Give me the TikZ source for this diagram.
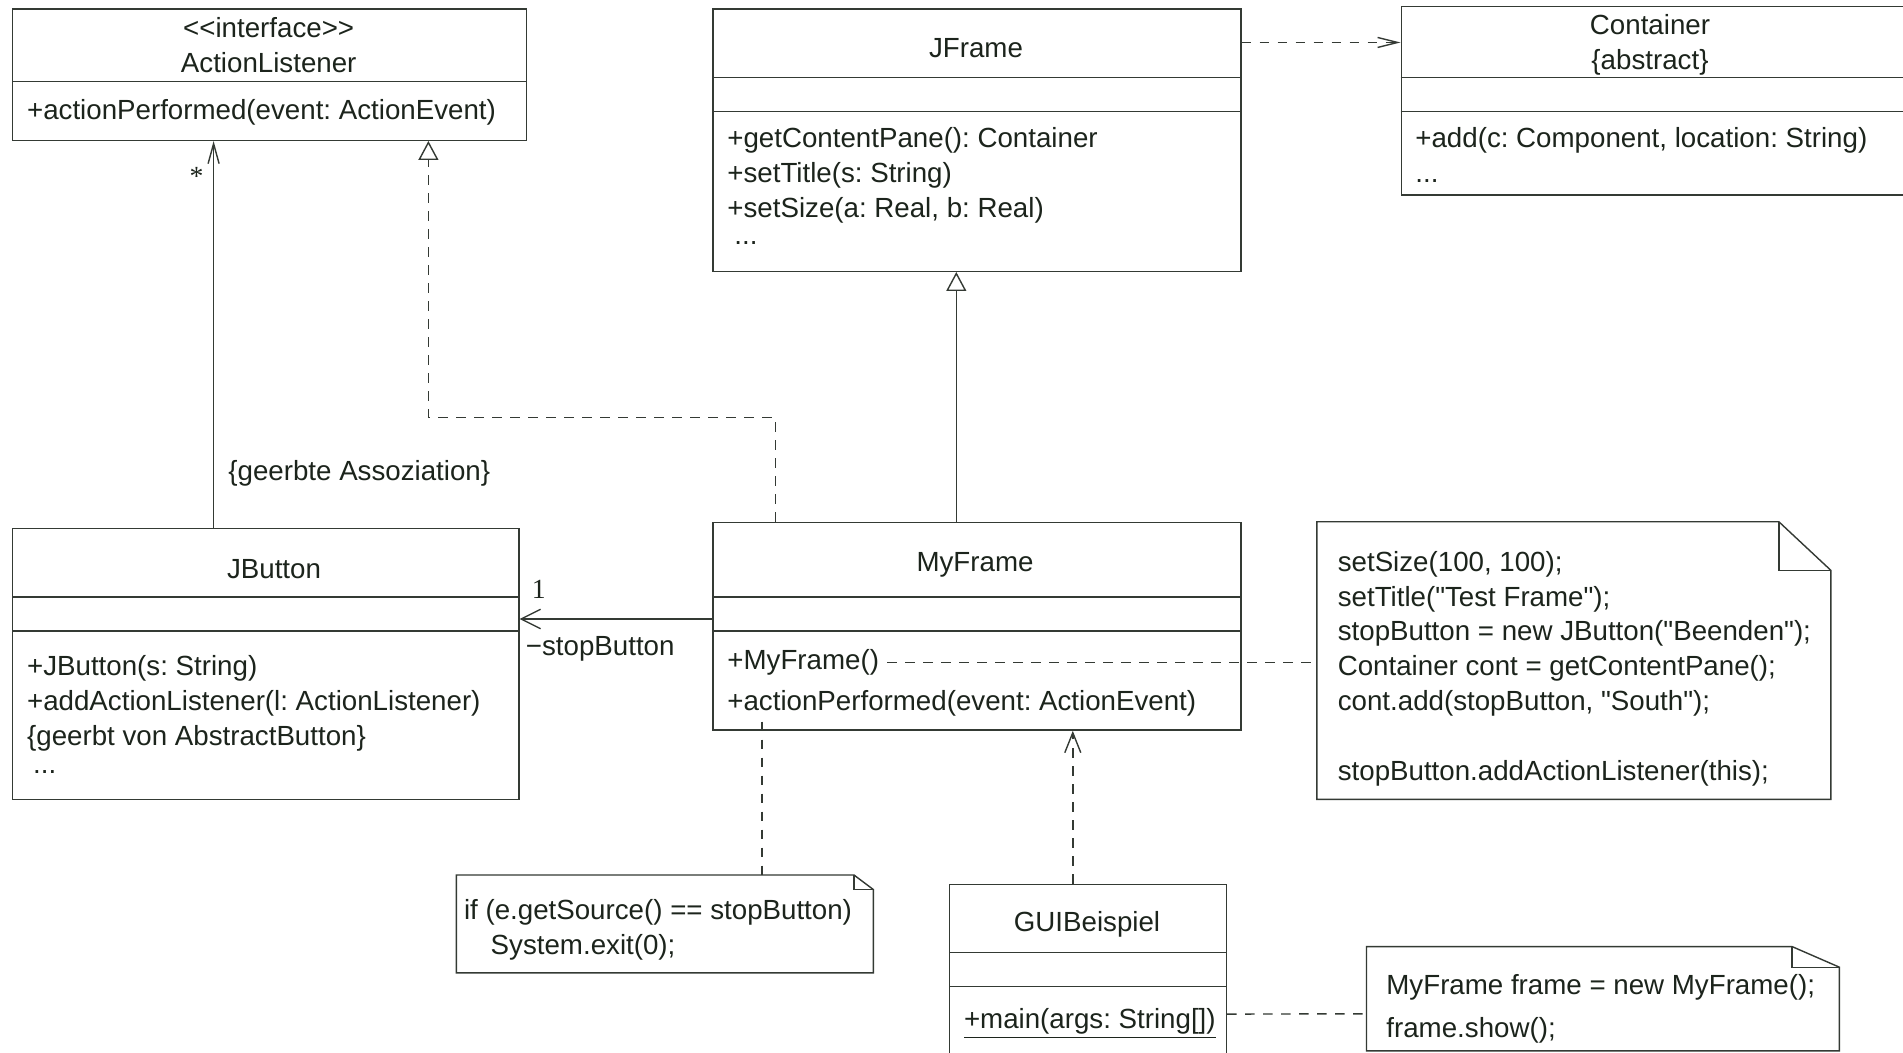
\documentclass[tikz,border=0pt]{standalone}
\usepackage{fontspec}
\setmainfont{Liberation Sans}[Ligatures=TeXOff]
\newfontfamily\multfont{Liberation Serif}
\usetikzlibrary{arrows.meta}

\definecolor{umlink}{RGB}{28,36,28}
\definecolor{umlgray}{RGB}{52,58,52}
\newcommand\umlfont{\fontsize{13.85}{17.4}\selectfont\frenchspacing}

% note outline with a folded corner: node, fold width, fold height
\newcommand\drawnote[3]{%
  \draw[umlline] (#1.north west) -- ([xshift=-#2]#1.north east)
    -- ([yshift=-#3]#1.north east) -- (#1.south east) -- (#1.south west) -- cycle;
  \draw[umlline] ([xshift=-#2]#1.north east) |- ([yshift=-#3]#1.north east);
}

\tikzset{
  umlline/.style={draw=umlgray, line width=0.7pt, line join=miter},
  classbox/.style={umlline, anchor=north west, inner sep=0pt},
  notebox/.style={anchor=north west, inner sep=0pt},
  txt/.style={anchor=north west, inner sep=0pt, align=left, text=umlink,
    execute at begin node=\strut},
  ctr/.style={anchor=north, inner sep=0pt, align=center, text=umlink,
    execute at begin node=\strut},
  mult/.style={inner sep=0pt, text=umlink, font=\multfont\umlfont},
  dashline/.style={dash pattern=on 4.8pt off 4.2pt},
  assoc/.style={umlline, -{Straight Barb[length=10pt,width=5.5pt]}},
  navig/.style={umlline, -{Straight Barb[length=9.7pt,width=9.7pt]}},
  gen/.style={umlline, -{Triangle[open,length=9.5pt,width=10pt]}},
  realize/.style={gen, dashline},
  dep/.style={umlline, dashline, -{Straight Barb[length=10pt,width=5pt]}},
  notelink/.style={umlline, dashline},
}

\begin{document}
\begin{tikzpicture}[x=0.5pt, y=-0.5pt, font=\umlfont]
  \path[use as bounding box, fill=white] (0,0) rectangle (1903,1053);
  \clip (0,0) rectangle (1903,1053);

  % ActionListener
  \node[classbox, minimum width=256.75pt, minimum height=65.55pt] (al) at (12,8.5) {};
  \draw[umlline] (al.west |- 0,81.3) -- (al.east |- 0,81.3);
  \node[ctr] (alname) at (268.7,16.9) {<{}<interface>{}>\\ActionListener};
  \node[txt] (alops) at (26.7,95.1) {+actionPerformed(event: ActionEvent)};

  % JFrame
  \node[classbox, minimum width=263.95pt, minimum height=131.05pt] (jframe) at (712.4,8.5) {};
  \draw[umlline] (jframe.west |- 0,77.7) -- (jframe.east |- 0,77.7);
  \draw[umlline] (jframe.west |- 0,111.7) -- (jframe.east |- 0,111.7);
  \node[ctr] (jfname) at (976,33.2) {JFrame};
  \node[txt] (jfops) at (727,127.3)
    {+getContentPane(): Container\\+setTitle(s: String)\\+setSize(a: Real, b: Real)\\[-4pt]\hspace*{3.5pt}...};

  % Container
  \node[classbox, minimum width=255pt, minimum height=94.1pt] (container) at (1400.5,6) {};
  \draw[umlline] (container.west |- 0,77.7) -- (container.east |- 0,77.7);
  \draw[umlline] (container.west |- 0,111.7) -- (container.east |- 0,111.7);
  \node[ctr] (ctname) at (1650,14.5) {Container\\\{abstract\}};
  \node[txt] (ctops) at (1415,127.3) {+add(c: Component, location: String)\\...};

  % JButton
  \node[classbox, minimum width=253.1pt, minimum height=135.35pt] (jbutton) at (12,527.9) {};
  \draw[umlline] (jbutton.west |- 0,597.1) -- (jbutton.east |- 0,597.1);
  \draw[umlline] (jbutton.west |- 0,631.1) -- (jbutton.east |- 0,631.1);
  \node[ctr] (jbname) at (274,553.9) {JButton};
  \node[txt] (jbops) at (26.7,655.2)
    {+JButton(s: String)\\+addActionListener(l: ActionListener)\\\{geerbt von AbstractButton\}\\[-3.3pt]\hspace*{3pt}...};

  % MyFrame
  \node[classbox, minimum width=263.95pt, minimum height=103.8pt] (myframe) at (712.4,521.8) {};
  \draw[umlline] (myframe.west |- 0,597.1) -- (myframe.east |- 0,597.1);
  \draw[umlline] (myframe.west |- 0,631.1) -- (myframe.east |- 0,631.1);
  \node[ctr] (mfname) at (975,546.6) {MyFrame};
  \node[txt] (mfctor) at (727,644.9) {+MyFrame()};
  \node[txt] (mfaction) at (727,686.1) {+actionPerformed(event: ActionEvent)};

  % GUIBeispiel
  \node[classbox, minimum width=138.35pt, minimum height=95pt] (gui) at (949,883.5) {};
  \draw[umlline] (gui.west |- 0,952.7) -- (gui.east |- 0,952.7);
  \draw[umlline] (gui.west |- 0,986.7) -- (gui.east |- 0,986.7);
  \node[ctr] (guiname) at (1087,907) {GUIBeispiel};
  \node[txt] (mainop) at (963.6,1004) {\underline{+main(args: String[])}};

  % notes
  \node[notebox, minimum width=256.65pt, minimum height=138.4pt] (note1) at (1316.8,521.8) {};
  \drawnote{note1}{26pt}{24.3pt}
  \node[txt] (note1txt) at (1337.4,550.9)
    {setSize(100, 100);\\setTitle("Test Frame");\\stopButton = new JButton("Beenden");\\Container cont = getContentPane();\\cont.add(stopButton, "South");\\[17.4pt]stopButton.addActionListener(this);};

  \node[notebox, minimum width=208.15pt, minimum height=48.55pt] (note2) at (456.3,875) {};
  \drawnote{note2}{9.7pt}{7.3pt}
  \node[txt] (note2txt) at (463.6,899.2)
    {if (e.getSource() == stopButton)\\\hspace*{13.35pt}System.exit(0);};

  \node[notebox, minimum width=236.05pt, minimum height=51.7pt] (note3) at (1366.5,946.6) {};
  \drawnote{note3}{23.65pt}{10.3pt}
  \node[txt] (note3txt) at (1386,974.4)
    {MyFrame frame = new MyFrame();\\[3.85pt]frame.show();};

  % connectors
  \draw[assoc] (jbutton.north -| 213.6,0) -- (al.south -| 213.6,0);
  \node[mult] (multstar) at (196.6,176) {*};
  \node[txt] (inhassoc) at (228,455.6) {\{geerbte Assoziation\}};

  \draw[realize] (myframe.north -| 775.5,0) |- (428.4,417.5) -- (al.south -| 428.4,0);
  \draw[gen] (myframe.north -| 956.3,0) -- (jframe.south -| 956.3,0);
  \draw[dep] ([yshift=-17pt]jframe.north east) -- ([yshift=-18.25pt]container.north west);

  \draw[navig] (myframe.west |- 0,619) -- (jbutton.east |- 0,619);
  \node[mult] (multone) at (538.8,589.8) {1};
  \node[txt] (rolestop) at (525.5,630.3) {−stopButton};

  \draw[dep, -{Straight Barb[length=10pt,width=8pt]}] (gui.north -| 1072.8,0) -- (myframe.south -| 1072.8,0);

  \draw[notelink] ([xshift=4pt]mfctor.east) -- (note1.west |- mfctor.east);
  \draw[notelink] (mfaction.south -| 762.1,0) -- (note2.north -| 762.1,0);
  \draw[notelink] ([yshift=-17.45pt]gui.east) -- ([yshift=-7.55pt]note3.west);
\end{tikzpicture}
\end{document}
